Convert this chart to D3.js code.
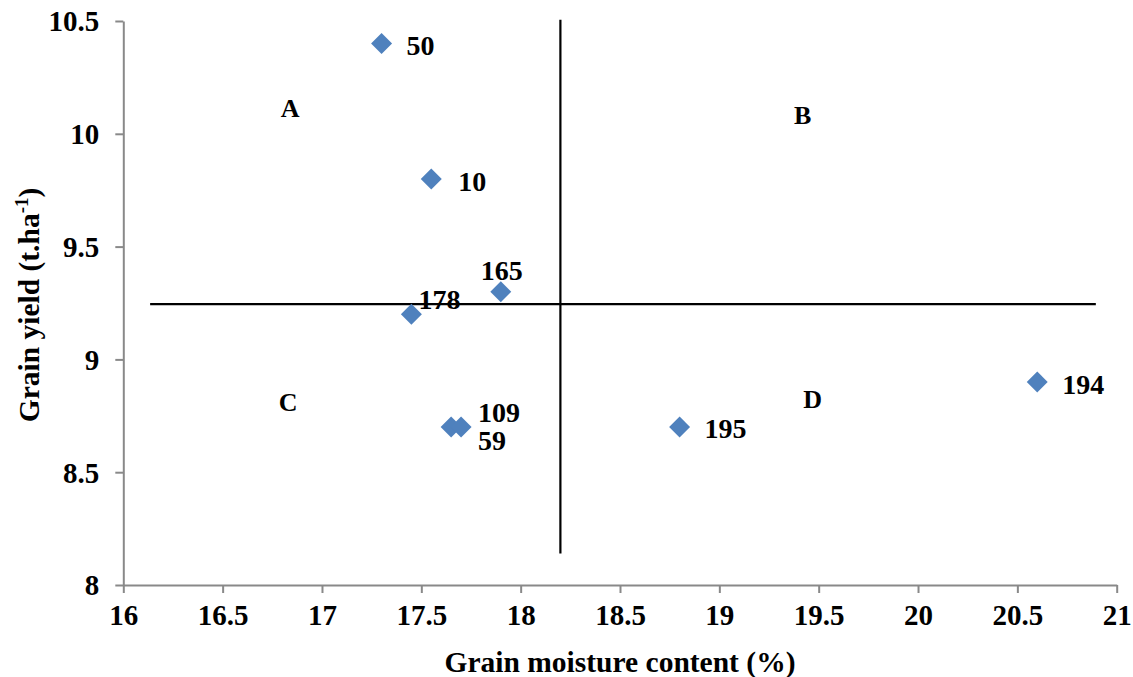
<!DOCTYPE html>
<html><head><meta charset="utf-8">
<script src="https://cdn.jsdelivr.net/npm/d3@7"></script>
<style>
body{margin:0;background:#fff;}
text{font-family:"Liberation Serif","Times New Roman",serif;font-weight:bold;fill:#000;}
</style></head>
<body><svg id="chart" width="1133" height="677"></svg>
<script>
const ids = ["50","10","165","178","109","59","195","194"];
const moisture = [17.3,17.55,17.9,17.45,17.65,17.7,18.8,20.6];
const yieldVals = [10.4,9.8,9.3,9.2,8.7,8.7,8.7,8.9];
const xTicks = [16,16.5,17,17.5,18,18.5,19,19.5,20,20.5,21];
const yTicks = [8,8.5,9,9.5,10,10.5];
const quadrantLabels = ["A","B","C","D"];
const quadrantX = [16.84,19.42,16.83,19.47];
const quadrantY = [10.113,10.083,8.813,8.823];
const vLineX = 18.2, vLineY = [8.14,10.505];
const hLineY = 9.245, hLineX = [16.135,20.895];

const svg = d3.select("#chart");
const x = d3.scaleLinear().domain([16,21]).range([123.3,1116.7]);
const y = d3.scaleLinear().domain([8,10.5]).range([585,21]);
const axisColor = "#898989";

const xAxis = svg.append("g").attr("transform","translate(0,585)")
  .call(d3.axisBottom(x).tickValues(xTicks).tickSize(8).tickSizeOuter(0).tickPadding(6).tickFormat(d3.format("")));
const yAxis = svg.append("g").attr("transform","translate(123.3,0)")
  .call(d3.axisLeft(y).tickValues(yTicks).tickSize(8).tickSizeOuter(0).tickPadding(16).tickFormat(d3.format("")));
[xAxis,yAxis].forEach(a=>{
  a.attr("font-family",null).attr("font-size",null);
  a.selectAll("path,line").attr("stroke",axisColor).attr("stroke-width",2);
  a.selectAll("text").style("font-size","29px").style("font-family","'Liberation Serif',serif").style("font-weight","bold").attr("fill","#000");
});
xAxis.selectAll("text").attr("dy","0.9em");
yAxis.selectAll("text").attr("dy","0.34em");

// reference lines
svg.append("line").attr("x1",x(vLineX)).attr("x2",x(vLineX)).attr("y1",y(vLineY[0])).attr("y2",y(vLineY[1]))
  .attr("stroke","#000").attr("stroke-width",2.2);
svg.append("line").attr("x1",x(hLineX[0])).attr("x2",x(hLineX[1])).attr("y1",y(hLineY)).attr("y2",y(hLineY))
  .attr("stroke","#000").attr("stroke-width",2.2);

// markers
const pts = ids.map((id,i)=>({id,x:moisture[i],y:yieldVals[i]}));
const sym = d3.symbol().type(d3.symbolSquare).size(220);
svg.append("g").selectAll("path").data(pts).join("path")
  .attr("d",sym)
  .attr("transform",d=>`translate(${x(d.x)},${y(d.y)}) rotate(45)`)
  .attr("fill","#4F81BD");

// data labels (offsets)
const labelDx = {"50":25,"10":27,"165":-20,"178":7,"109":27,"59":17,"195":25,"194":25};
const labelDy = {"50":2,"10":2,"165":-22,"178":-15,"109":-15,"59":13,"195":1,"194":2};
svg.append("g").selectAll("text").data(pts).join("text")
  .attr("x",d=>x(d.x)+labelDx[d.id])
  .attr("y",d=>y(d.y)+labelDy[d.id])
  .attr("dy","0.35em")
  .style("font-size","28px")
  .text(d=>d.id);

// quadrant labels
svg.append("g").selectAll("text").data(quadrantLabels).join("text")
  .attr("x",(d,i)=>x(quadrantX[i]))
  .attr("y",(d,i)=>y(quadrantY[i]))
  .attr("dy","0.35em").attr("text-anchor","middle")
  .style("font-size","26px")
  .text(d=>d);

// axis titles
svg.append("text").attr("x",620).attr("y",662).attr("dy","0.35em").attr("text-anchor","middle")
  .style("font-size","29.5px").text("Grain moisture content (%)");
const yt = svg.append("text").attr("transform","translate(29,305) rotate(-90)").attr("dy","0.35em")
  .attr("text-anchor","middle").style("font-size","29.5px");
yt.append("tspan").text("Grain yield (t.ha");
yt.append("tspan").attr("dy","-11").style("font-size","19px").text("-1");
yt.append("tspan").attr("dy","11").text(")");
</script></body></html>
